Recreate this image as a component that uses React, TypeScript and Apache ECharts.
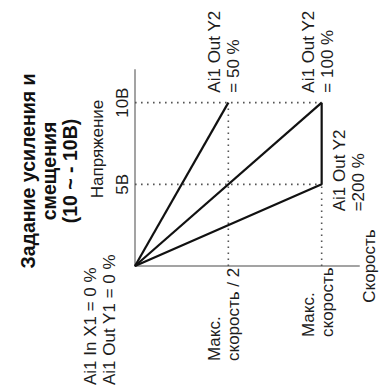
import React, { useEffect, useRef } from "react";
import * as echarts from "echarts";

// ---- data ----
const titleLines = ["Задание усиления и", "смещения", "(10 ~ - 10В)"];
const yAxisName = "Напряжение";
const xAxisName = "Скорость";
const yTickLabels = ["5В", "10В"];
const yTickValues = [5, 10];
const xTickLabels = ["Макс.\nскорость / 2", "Макс.\nскорость"];
const xTickValues = [0.5, 1];
const originLabel = "Ai1 In X1 = 0 %\nAi1 Out Y1 = 0 %";
const gainLabels = ["Ai1 Out Y2\n= 50 %", "Ai1 Out Y2\n= 100 %", "Ai1 Out Y2\n=200 %"];

const axisMaxX = 1.2;
const axisMaxY = 12;

const gain50 = [[0, 0], [0.5, 10]];
const gain100 = [[0, 0], [1, 10]];
const gain200 = [[0, 0], [1, 5], [1, 10]];
const guide10 = [[0, 10], [1, 10]];
const guide5 = [[0, 5], [1, 5]];
const guideHalf = [[0.5, 0], [0.5, 10]];
const guideMax = [[1, 0], [1, 5]];

const FONT = '"Liberation Sans", Arial, sans-serif';
const TXT = "#1c1c1c";

export default function App() {
  const ref = useRef<HTMLDivElement>(null);
  useEffect(() => {
    if (!ref.current) return;
    const chart = echarts.init(ref.current, null, { renderer: "svg" });
    const solid = (data: number[][]) => ({
      type: "line",
      data,
      showSymbol: false,
      symbol: "none",
      z: 3,
      lineStyle: { color: "#111", width: 2.2 },
    });
    const dotted = (data: number[][]) => ({
      type: "line",
      data,
      showSymbol: false,
      symbol: "none",
      z: 2,
      lineStyle: { color: "#555", width: 1.6, type: [1.6, 4.4] },
    });
    chart.setOption({
      animation: false,
      grid: { left: 135, top: 70, right: 20, bottom: 121 },
      xAxis: {
        type: "value",
        min: 0,
        max: axisMaxX,
        axisLine: { lineStyle: { color: "#a3a3a3", width: 2 } },
        axisTick: { show: false },
        axisLabel: { show: false },
        splitLine: { show: false },
      },
      yAxis: {
        type: "value",
        min: 0,
        max: axisMaxY,
        axisLine: { show: true, lineStyle: { color: "#a3a3a3", width: 2 } },
        axisTick: { show: false },
        axisLabel: { show: false },
        splitLine: { show: false },
      },
      series: [
        dotted(guide10),
        dotted(guide5),
        dotted(guideHalf),
        dotted(guideMax),
        solid(gain50),
        solid(gain100),
        solid(gain200),
      ],
    });

    const P = (x: number, y: number) =>
      chart.convertToPixel({ gridIndex: 0 }, [x, y]) as number[];

    const txt = (
      text: string,
      pt: number[],
      dx: number,
      dy: number,
      align: string,
      extra: any = {}
    ) => ({
      type: "text",
      x: pt[0] + dx,
      y: pt[1] + dy,
      rotation: Math.PI / 2,
      style: {
        text,
        fill: TXT,
        fontFamily: FONT,
        fontSize: 17,
        lineHeight: 19,
        align,
        verticalAlign: "middle",
        ...extra,
      },
    });

    const graphics = [
      {
        type: "text",
        x: 49,
        y: 171,
        rotation: Math.PI / 2,
        style: {
          text: titleLines.join("\n"),
          fill: "#111",
          fontFamily: FONT,
          fontSize: 19.5,
          fontWeight: "bold",
          lineHeight: 21,
          align: "center",
          verticalAlign: "middle",
        },
      },
      txt(yAxisName, P(0, axisMaxY), -38, 79, "center"),
      txt(yTickLabels[0], P(0, yTickValues[0]), -13, 0, "center"),
      txt(yTickLabels[1], P(0, yTickValues[1]), -13, 0, "center"),
      txt(xAxisName, P(axisMaxX, 0), 10, 0, "center"),
      txt(xTickLabels[0], P(xTickValues[0], 0), -4, 95, "left"),
      txt(xTickLabels[1], P(xTickValues[1], 0), -4, 71, "left"),
      txt(originLabel, P(0, 0), -35, 119, "left"),
      txt(gainLabels[0], P(0.5, 10), -4, -10, "left"),
      txt(gainLabels[1], P(1, 10), -4, -10, "left"),
      txt(gainLabels[2], P(1, 5), 27, 27, "left"),
    ];
    chart.setOption({ graphic: graphics });
    return () => chart.dispose();
  }, []);
  return (
    <div
      ref={ref}
      style={{ position: "absolute", left: 0, top: 0, width: 379, height: 387, background: "#fff" }}
    />
  );
}
